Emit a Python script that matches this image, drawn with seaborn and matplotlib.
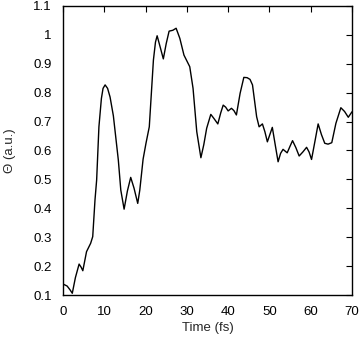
import matplotlib
matplotlib.use("Agg")
import matplotlib.pyplot as plt
import seaborn as sns
import pandas as pd
from matplotlib.ticker import FuncFormatter

time_fs = [0, 1.0, 1.7, 2.25, 3.0, 3.9, 4.4, 4.8, 5.7, 6.7, 7.2, 7.75, 8.15, 8.7, 9.3, 9.7,
           10.2, 10.8, 11.4, 12.2, 13.4, 14.0, 14.8, 15.6, 16.4, 17.2, 18.1, 18.6, 19.4,
           20.1, 20.9, 21.9, 22.4, 22.8, 23.5, 24.3, 25.0, 25.7, 26.6, 27.4, 28.3, 29.3,
           30.7, 31.5, 32.4, 33.4, 34.1, 34.8, 35.8, 36.6, 37.5, 38.2, 38.8, 39.4, 40.0,
           40.8, 41.4, 42.0, 42.9, 43.8, 44.6, 45.3, 45.9, 46.9, 47.5, 48.3, 48.9, 49.5,
           50.1, 50.7, 51.4, 52.1, 52.7, 53.3, 54.3, 55.0, 55.6, 56.4, 57.2, 58.1, 59.0,
           59.6, 60.2, 61.0, 61.8, 62.6, 63.4, 64.2, 65.1, 66.1, 67.3, 68.2, 69.1, 70.0]
theta = [0.138, 0.131, 0.118, 0.106, 0.16, 0.207, 0.196, 0.184, 0.25, 0.279, 0.302, 0.429,
         0.498, 0.682, 0.78, 0.815, 0.827, 0.815, 0.785, 0.72, 0.567, 0.463, 0.397, 0.46,
         0.507, 0.47, 0.417, 0.463, 0.57, 0.625, 0.682, 0.913, 0.975, 0.997, 0.96, 0.917,
         0.97, 1.013, 1.016, 1.023, 0.988, 0.93, 0.89, 0.815, 0.665, 0.575, 0.62, 0.677,
         0.725, 0.71, 0.692, 0.73, 0.757, 0.75, 0.737, 0.746, 0.738, 0.723, 0.798, 0.853,
         0.852, 0.846, 0.827, 0.717, 0.682, 0.692, 0.665, 0.630, 0.655, 0.68, 0.62, 0.561,
         0.59, 0.604, 0.592, 0.615, 0.634, 0.61, 0.581, 0.595, 0.611, 0.595, 0.569, 0.63,
         0.692, 0.655, 0.625, 0.622, 0.627, 0.694, 0.748, 0.735, 0.715, 0.734]

x_ticks = [0, 10, 20, 30, 40, 50, 60, 70]
y_ticks = [0.1, 0.2, 0.3, 0.4, 0.5, 0.6, 0.7, 0.8, 0.9, 1.0, 1.1]

sns.set_style("white")
plt.rcParams['font.family'] = ['Liberation Sans', 'DejaVu Sans']

df = pd.DataFrame({"t": time_fs, "theta": theta})

fig = plt.figure(figsize=(3.62, 3.37), dpi=100)
ax = fig.add_axes([63 / 362, 42 / 337, 289 / 362, 289 / 337])
sns.lineplot(data=df, x="t", y="theta", ax=ax, color="black", linewidth=1.0,
             sort=False, estimator=None)

ax.set_xlim(0, 70)
ax.set_ylim(0.1, 1.1)
ax.set_xticks(x_ticks)
ax.set_yticks(y_ticks)
ax.yaxis.set_major_formatter(FuncFormatter(lambda v, p: f"{v:g}"))
ax.tick_params(direction="in", length=4, width=0.8, top=True, right=True,
               labelsize=9.5, colors="black")
ax.tick_params(axis="y", pad=8)
ax.tick_params(axis="x", pad=8)
for s in ax.spines.values():
    s.set_color("black")
    s.set_linewidth(1.0)
ax.set_xlabel("Time (fs)", fontsize=9.5)
ax.set_ylabel("Θ (a.u.)", fontsize=9.5)
ax.xaxis.set_label_coords(0.5, -0.093)
ax.yaxis.set_label_coords(-0.163, 0.5)

fig.savefig("out.png", dpi=100)
